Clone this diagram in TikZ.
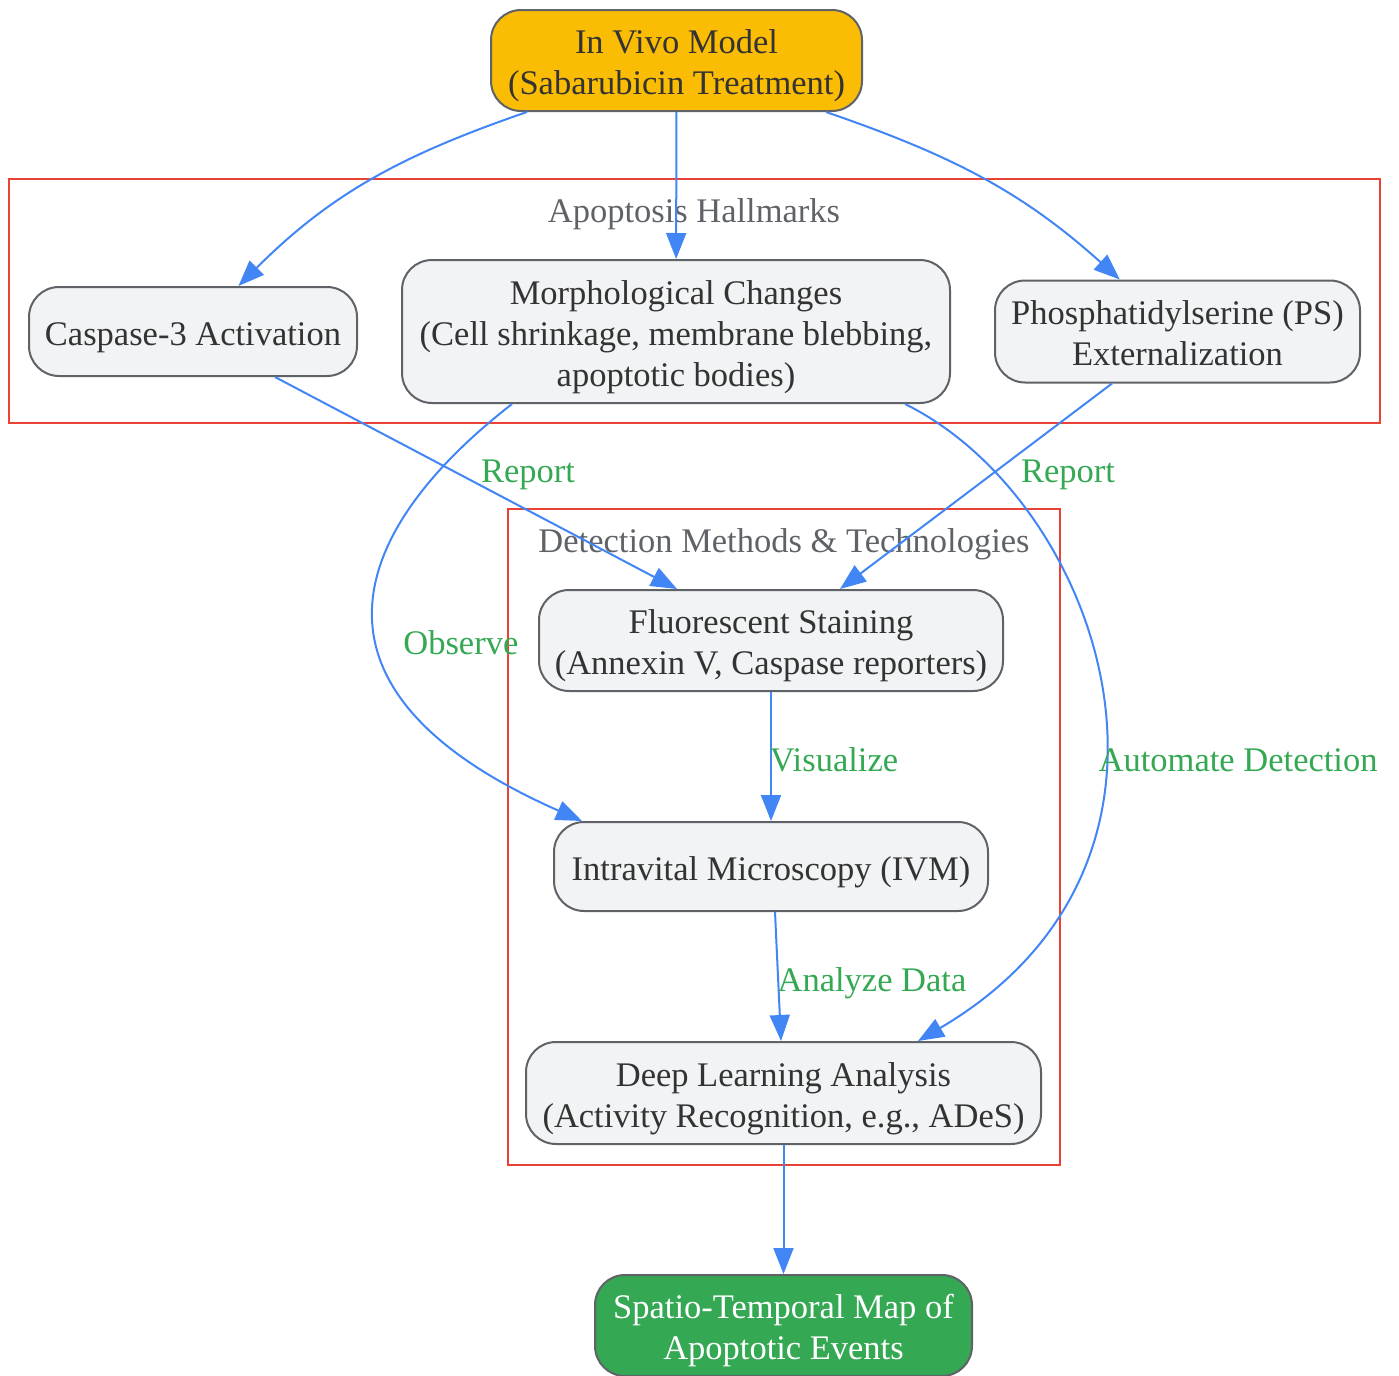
\documentclass[tikz,border=0pt]{standalone}
\usepackage{fontspec}
\setmainfont{Liberation Serif}
\usetikzlibrary{arrows.meta}
\usetikzlibrary{positioning}

\definecolor{flowblue}{HTML}{4285F4}
\definecolor{hallred}{HTML}{EA4335}
\definecolor{lblgreen}{HTML}{34A853}
\definecolor{boxgray}{HTML}{F1F3F4}
\definecolor{linegray}{HTML}{5F6368}
\definecolor{txtgray}{HTML}{333333}
\definecolor{vivoyellow}{HTML}{FBBC04}

% lines of a box, set a little low as in the reference
\newsavebox{\linesbox}
\newcommand{\boxlines}[1]{\sbox{\linesbox}{\begin{tabular}{@{}c@{}}#1\end{tabular}}%
  \raisebox{-2.75pt}[\ht\linesbox][\dp\linesbox]{\usebox{\linesbox}}}

\tikzset{
  every node/.style={font=\fontsize{17.25}{20.5}\selectfont},
  box/.style={draw=linegray, fill=boxgray, text=txtgray, line width=1pt,
    rounded corners=15pt, inner sep=0pt},
  flow/.style={draw=flowblue, line width=1pt, -{Triangle[length=13pt,width=10pt]}},
  lbl/.style={text=lblgreen, inner sep=0pt},
  cluster/.style={draw=hallred, line width=1pt},
  clbl/.style={text=linegray}
}

\begin{document}
\begin{tikzpicture}[x=0.5pt, y=-0.5pt]
  \useasboundingbox (0,0) rectangle (1399,1376);

  % groups
  \draw[cluster] (9,179) rectangle (1380,423);
  \draw[cluster] (508,509) rectangle (1060,1165);
  \node[clbl] (hallT) at (694,214) {Apoptosis Hallmarks};
  \node[clbl] (detT) at (784,544) {Detection Methods \& Technologies};

  \node[box, fill=vivoyellow, minimum width=185.5pt, minimum height=50.5pt] (vivo) at (676.5,60.5) {\boxlines{In Vivo Model\\(Sabarubicin Treatment)}};

  \node[box, minimum width=274pt, minimum height=71.5pt, below=73.5pt of vivo, xshift=-0.25pt] (morph) {\boxlines{Morphological Changes\\(Cell shrinkage, membrane blebbing,\\apoptotic bodies)}};
  \node[box, minimum width=164pt, minimum height=44.5pt, left=21.5pt of morph] (casp) {\boxlines{Caspase-3 Activation}};
  \node[box, minimum width=182.5pt, minimum height=51pt, right=21.5pt of morph] (ps) {\boxlines{Phosphatidylserine (PS)\\Externalization}};

  \node[box, minimum width=232pt, minimum height=50.5pt, below=92.5pt of morph, xshift=47.5pt] (fluor) {\boxlines{Fluorescent Staining\\(Annexin V, Caspase reporters)}};
  \node[box, minimum width=217pt, minimum height=44.5pt, below=64.5pt of fluor] (ivm) {\boxlines{Intravital Microscopy (IVM)}};
  \node[box, minimum width=257.5pt, minimum height=51pt, below=64.5pt of ivm, xshift=6.25pt] (deep) {\boxlines{Deep Learning Analysis\\(Activity Recognition, e.g., ADeS)}};
  \node[box, fill=lblgreen, text=white, minimum width=188.5pt, minimum height=50.5pt, below=64.5pt of deep] (map) {\boxlines{Spatio-Temporal Map of\\Apoptotic Events}};

  \draw[flow] (vivo) to[out=199, in=45] (casp);
  \draw[flow] (vivo) -- (morph);
  \draw[flow] (vivo) to[out=-19, in=138] (ps);

  \draw[flow] ([xshift=41pt]casp.south) -- node[lbl, xshift=26pt, yshift=4pt] (rep1) {Report} ([xshift=-47pt]fluor.north);
  \draw[flow] ([xshift=-32.75pt]ps.south) -- node[lbl, xshift=46pt, yshift=5.75pt] (rep2) {Report} ([xshift=34.5pt]fluor.north);
  \draw[flow] ([xshift=-82pt]morph.south) .. controls (350,530) and (285,690) .. ([xshift=-94.5pt]ivm.north)
    node[lbl, pos=0.5, xshift=43pt, yshift=-16pt] (obs) {Observe};
  \draw[flow] ([xshift=114.5pt]morph.south) .. controls (1100,500) and (1226,860) .. ([xshift=67.25pt]deep.north)
    node[lbl, pos=0.5, xshift=69pt, yshift=-35pt] (auto) {Automate Detection};

  \draw[flow] (fluor) -- node[lbl, xshift=31.5pt, yshift=-1.5pt] (vis) {Visualize} (ivm);
  \draw[flow] ([xshift=2pt]ivm.south) -- node[lbl, xshift=47pt, yshift=-3.25pt] (ana) {Analyze Data} ([xshift=-1.25pt]deep.north);
  \draw[flow] (deep) -- (map);

\end{tikzpicture}
\end{document}
